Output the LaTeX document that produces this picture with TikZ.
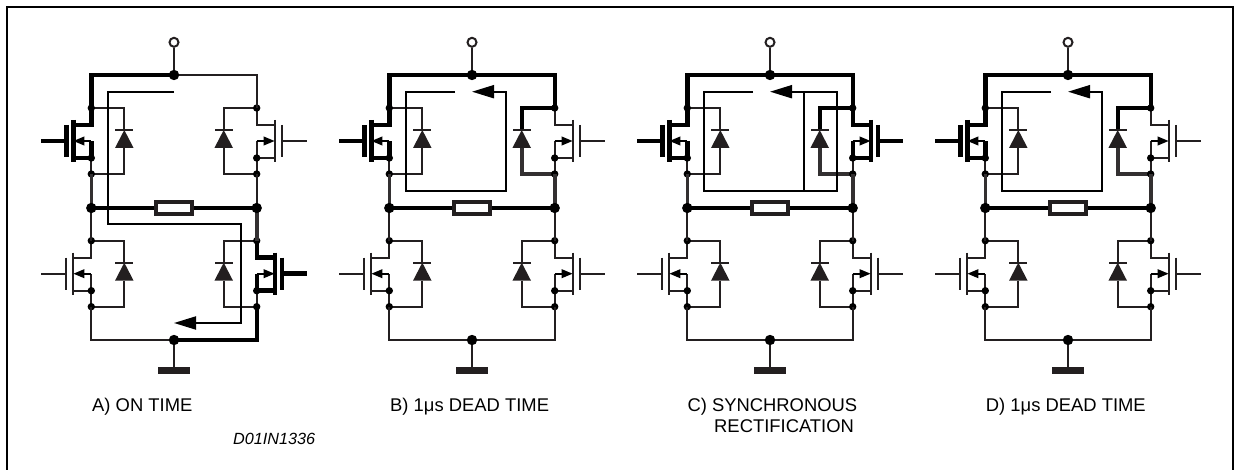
\documentclass[tikz,border=0pt]{standalone}
\usepackage{fontspec}
\setmainfont{Liberation Sans}
\usetikzlibrary{arrows.meta}
\definecolor{ink}{HTML}{231F20}
\definecolor{medink}{HTML}{333031}
\tikzset{
  thinw/.style={draw=ink,line width=2.1pt,line join=miter},
  boldw/.style={draw=black,line width=4.4pt,line join=miter},
  medw/.style={draw=medink,line width=3.6pt,line join=miter},
  loopw/.style={draw=black,line width=2pt,line join=miter},
  looparrow/.style={loopw,-{Triangle[length=22pt,width=13pt]}},
  fetarrow/.style={-{Triangle[length=11pt,width=8.5pt]},draw=black,line width=2pt},
  dot/.style={circle,fill=black,draw=none,inner sep=0pt,minimum size=7.4pt},
  bigdot/.style={circle,fill=black,draw=none,inner sep=0pt,minimum size=10.4pt},
  terminal/.style={circle,draw=ink,fill=white,line width=2pt,inner sep=0pt,minimum size=9pt},
  groundbar/.style={rectangle,fill=ink,draw=none,inner sep=0pt,minimum width=32pt,minimum height=6.8pt},
  loadbox/.style={rectangle,draw=ink,fill=white,line width=3.4pt,inner sep=0pt,minimum width=36pt,minimum height=12pt},
  diodetri/.style={fill=ink,draw=none},
  caption/.style={anchor=base west,inner sep=0pt,font=\fontsize{18.4}{20}\selectfont},
  refcode/.style={anchor=base west,inner sep=0pt,font=\itshape\fontsize{16.2}{18}\selectfont}
}
% name, x, y, mirror, fet style, diode top style, diode bottom style
\newcommand\fetleg[7]{%
  \begin{scope}[shift={(#2,#3)},xscale=#4]
    \coordinate (#1d) at (0,0);
    \coordinate (#1s) at (0,66);
    \coordinate (#1a) at (33,0);
    \coordinate (#1b) at (33,66);
    \coordinate (#1k) at (33,22);
    \coordinate (#1n) at (33,40);
    \coordinate (#1g) at (-50,33);
    \coordinate (#1h) at (-25,33);
    \draw[#5] (#1d) -- (0,17) -- (-18,17);
    \draw[#5] (-18,12) -- (-18,54);
    \draw[#5] (-25,17) -- (-25,49);
    \draw[#5] (#1g) -- (#1h);
    \draw[#5] (-18,50) -- (0,50) -- (0,33);
    \draw[fetarrow] (0,33) -- (-18,33);
    \draw[thinw] (0,50) -- (#1s);
    \draw[#6] (#1d) -- (#1a) -- (#1k);
    \draw[#7] (#1n) -- (#1b) -- (#1s);
    \draw[draw=ink,line width=1.9pt] (24,22) -- (42,22);
    \fill[diodetri] (33,22) -- (42.3,40) -- (23.7,40) -- cycle;
    \node[dot] at (0,50) {};
    \node[dot] at (#1d) {};
    \node[dot] at (#1s) {};
  \end{scope}%
}
% prefix, centre x, upper left fet, upper right fet, ur diode top, ur diode bottom, lower right fet
\newcommand\panel[7]{%
  \coordinate (#1T) at (#2,75);
  \coordinate (#1B) at (#2,340);
  \coordinate (#1ML) at (#2-82.7,208);
  \coordinate (#1MR) at (#2+82.7,208);
  \node[terminal] (#1V) at (#2,42.3) {};
  \node[groundbar] (#1G) at (#2,370.7) {};
  \draw[thinw] (#1V) -- (#1T);
  \draw[thinw] (#1B) -- (#1G);
  \fetleg{#1UL}{#2-82.7}{108}{1}{#3}{thinw}{thinw}
  \fetleg{#1UR}{#2+82.7}{108}{-1}{#4}{#5}{#6}
  \fetleg{#1LL}{#2-82.7}{240.7}{1}{thinw}{thinw}{thinw}
  \fetleg{#1LR}{#2+82.7}{240.7}{-1}{#7}{thinw}{thinw}
}
\newcommand\panelmarks[1]{%
  \node[bigdot] at (#1T) {};
  \node[bigdot] at (#1B) {};
  \node[bigdot] at (#1ML) {};
  \node[bigdot] at (#1MR) {};
}
\begin{document}
\begin{tikzpicture}[x=1pt,y=-1pt]
\useasboundingbox (0,0) rectangle (1239,470);
\coordinate (f1) at (7,470);
\coordinate (f2) at (7,7);
\coordinate (f3) at (1232.5,7);
\coordinate (f4) at (1232.5,470);
\draw[draw=black,line width=2pt] (f1) -- (f2) -- (f3) -- (f4);

% ---------- A
\panel{a}{174}{boldw}{thinw}{thinw}{thinw}{boldw}
\draw[boldw] (aT) -| (aULd);
\draw[thinw] (aT) -| (aURd);
\draw[medw] (aULs) -- (aML);
\draw[thinw] (aURs) -- (aMR);
\draw[boldw] (aML) -- (aMR);
\draw[thinw] (aML) -- (aLLd);
\draw[medw] (aMR) -- (aLRd);
\draw[thinw] (aLLs) |- (aB);
\draw[boldw] (aLRs) |- (aB);
\node[loadbox] (aR) at (174,208) {};
\panelmarks{a}
\coordinate (a1) at (174,91.7);
\coordinate (a2) at (107.7,91.7);
\coordinate (a3) at (107.7,224);
\coordinate (a4) at (240.7,224);
\coordinate (a5) at (240.7,323);
\coordinate (a6) at (174,323);
\draw[looparrow] (a1) -- (a2) -- (a3) -- (a4) -- (a5) -- (a6);

% ---------- B
\panel{b}{472}{boldw}{thinw}{boldw}{medw}{thinw}
\draw[boldw] (bT) -| (bULd);
\draw[boldw] (bT) -| (bURd);
\draw[medw] (bULs) -- (bML);
\draw[medw] (bURs) -- (bMR);
\draw[boldw] (bML) -- (bMR);
\draw[thinw] (bML) -- (bLLd);
\draw[thinw] (bMR) -- (bLRd);
\draw[thinw] (bLLs) |- (bB);
\draw[thinw] (bLRs) |- (bB);
\node[loadbox] (bR) at (472,208) {};
\panelmarks{b}
\coordinate (b1) at (455,91.7);
\coordinate (b2) at (406,91.7);
\coordinate (b3) at (406,191.3);
\coordinate (b4) at (505.7,191.3);
\coordinate (b5) at (505.7,91.7);
\coordinate (b6) at (472,91.7);
\draw[loopw] (b1) -- (b2) -- (b3) -- (b4) -- (b5) -- (490,91.7);
\draw[looparrow] (b5) -- (b6);

% ---------- C
\panel{c}{770}{boldw}{boldw}{boldw}{medw}{thinw}
\draw[boldw] (cT) -| (cULd);
\draw[boldw] (cT) -| (cURd);
\draw[medw] (cULs) -- (cML);
\draw[medw] (cURs) -- (cMR);
\draw[boldw] (cML) -- (cMR);
\draw[thinw] (cML) -- (cLLd);
\draw[thinw] (cMR) -- (cLRd);
\draw[thinw] (cLLs) |- (cB);
\draw[thinw] (cLRs) |- (cB);
\node[loadbox] (cR) at (770,208) {};
\panelmarks{c}
\coordinate (c1) at (753,91.7);
\coordinate (c2) at (703.5,91.7);
\coordinate (c3) at (703.5,191.3);
\coordinate (c4) at (837,191.3);
\coordinate (c5) at (837,91.7);
\coordinate (c6) at (770,91.7);
\coordinate (c7) at (803.5,191.3);
\coordinate (c8) at (803.5,91.7);
\draw[loopw] (c1) -- (c2) -- (c3) -- (c4) -- (c5) -- (790,91.7);
\draw[loopw] (c7) -- (c8);
\draw[looparrow] (c5) -- (c6);

% ---------- D
\panel{d}{1068}{boldw}{thinw}{boldw}{medw}{thinw}
\draw[boldw] (dT) -| (dULd);
\draw[boldw] (dT) -| (dURd);
\draw[medw] (dULs) -- (dML);
\draw[medw] (dURs) -- (dMR);
\draw[boldw] (dML) -- (dMR);
\draw[thinw] (dML) -- (dLLd);
\draw[thinw] (dMR) -- (dLRd);
\draw[thinw] (dLLs) |- (dB);
\draw[thinw] (dLRs) |- (dB);
\node[loadbox] (dR) at (1068,208) {};
\panelmarks{d}
\coordinate (d1) at (1051,91.7);
\coordinate (d2) at (1002,91.7);
\coordinate (d3) at (1002,191.3);
\coordinate (d4) at (1101.7,191.3);
\coordinate (d5) at (1101.7,91.7);
\coordinate (d6) at (1068,91.7);
\draw[loopw] (d1) -- (d2) -- (d3) -- (d4) -- (d5) -- (1086,91.7);
\draw[looparrow] (d5) -- (d6);

% ---------- labels
\node[caption] (la) at (92,411) {A) ON TIME};
\node[caption] (lb) at (390,411) {B) 1μs DEAD TIME};
\node[caption] (lc) at (687.3,411) {C) SYNCHRONOUS};
\node[caption] (lc2) at (714,432.7) {RECTIFICATION};
\node[caption] (ld) at (985.7,411) {D) 1μs DEAD TIME};
\node[refcode] (code) at (233,444) {D01IN1336};
\end{tikzpicture}
\end{document}
